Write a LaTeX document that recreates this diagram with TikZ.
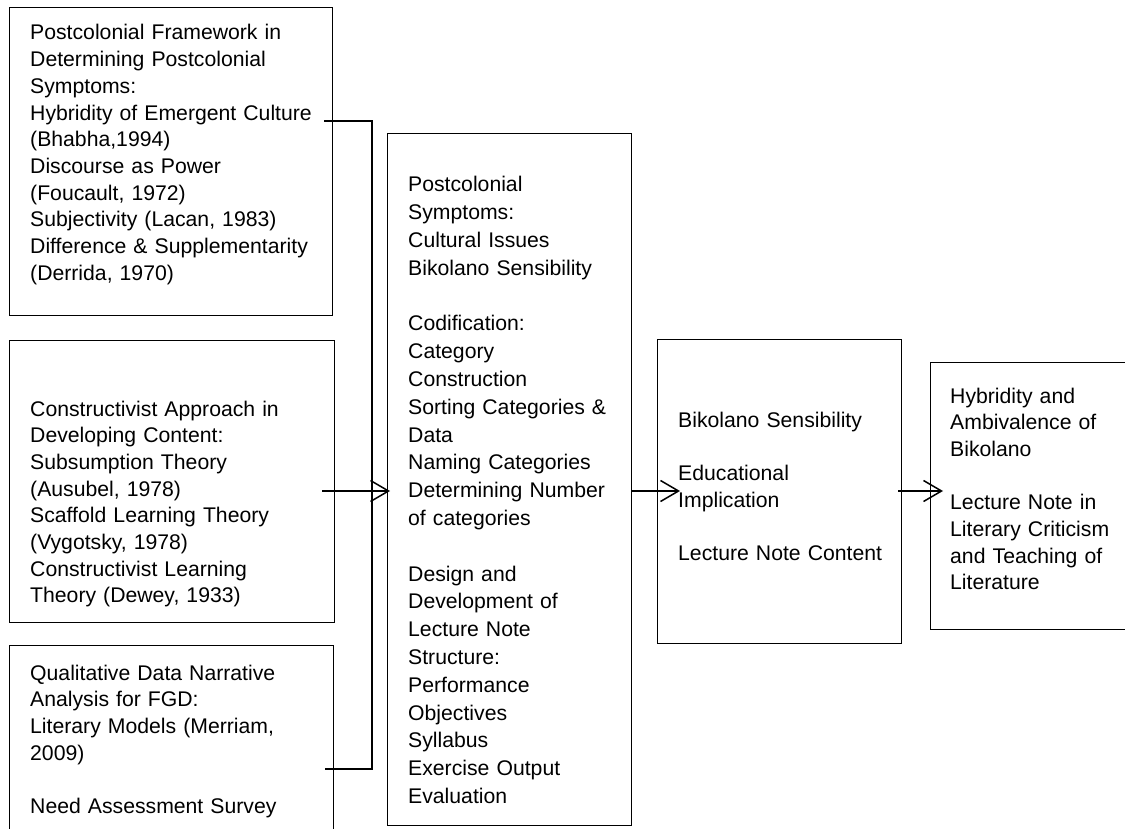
\documentclass[tikz,border=0pt]{standalone}
\usepackage{fontspec}
\setmainfont{Liberation Sans}
\usetikzlibrary{arrows.meta}

\begin{document}
\begin{tikzpicture}[x=1pt, y=-1pt,
  box/.style={draw, line width=1.3pt, rectangle, inner sep=0pt, anchor=north west},
  txt/.style={anchor=base west, inner sep=0pt, text width=300pt, align=left,
    font=\fontsize{21.2}{26.7}\selectfont},
  link/.style={line width=1.5pt},
  flow/.style={line width=1.5pt, -{Straight Barb[length=18pt, width=21pt]}}]

  \path[use as bounding box, clip] (0,0) rectangle (1125,829);

  \node[box, minimum width=323pt, minimum height=308pt] (frame)    at (9,7)     {};
  \node[box, minimum width=325pt, minimum height=282pt] (theory)   at (9,340)   {};
  \node[box, minimum width=324pt, minimum height=220pt] (analysis) at (9,645)   {};
  \node[box, minimum width=244pt, minimum height=692pt] (symptoms) at (387,133) {};
  \node[box, minimum width=244pt, minimum height=304pt] (sense)    at (657,339) {};
  \node[box, minimum width=220pt, minimum height=267pt] (outcome)  at (930,362) {};

  \node[txt] (frameT) at (30,40) {Postcolonial Framework in\\ Determining Postcolonial\\
    Symptoms:\\ Hybridity of Emergent Culture\\ (Bhabha,1994)\\ Discourse as Power\\
    (Foucault, 1972)\\ Subjectivity (Lacan, 1983)\\ Difference \& Supplementarity\\
    (Derrida, 1970)};
  \node[txt] (theoryT) at (30,416) {Constructivist Approach in\\ Developing Content:\\
    Subsumption Theory\\ (Ausubel, 1978)\\ Scaffold Learning Theory\\ (Vygotsky, 1978)\\
    Constructivist Learning\\ Theory (Dewey, 1933)};
  \node[txt] (analysisT) at (30,680) {Qualitative Data Narrative\\ Analysis for FGD:\\
    Literary Models (Merriam,\\ 2009)\\[\baselineskip] Need Assessment Survey};
  \node[txt, font=\fontsize{21.2}{27.8}\selectfont] (symptomsT) at (408,192)
    {Postcolonial\\ Symptoms:\\ Cultural Issues\\
    Bikolano Sensibility\\[\baselineskip] Codification:\\ Category\\ Construction\\
    Sorting Categories \&\\ Data\\ Naming Categories\\ Determining Number\\
    of categories\\[\baselineskip] Design and\\ Development of\\ Lecture Note\\ Structure:\\
    Performance\\ Objectives\\ Syllabus\\ Exercise Output\\ Evaluation};
  \node[txt] (senseT) at (678,427) {Bikolano Sensibility\\[\baselineskip] Educational\\
    Implication\\[\baselineskip] Lecture Note Content};
  \node[txt] (outcomeT) at (950,403) {Hybridity and\\ Ambivalence of\\
    Bikolano\\[\baselineskip] Lecture Note in\\ Literary Criticism\\ and Teaching of\\
    Literature};

  \coordinate (jtop) at (372,121);
  \coordinate (jbot) at (372,769);
  \coordinate (mid)  at (372,491);

  \draw[link] ([xshift=-9pt]frame.east |- jtop) -- (jtop) -- (jbot)
    -- ([xshift=-9pt]analysis.east |- jbot);
  \draw[flow] ([xshift=-13pt]theory.east |- mid) -- ([xshift=3pt]symptoms.west |- mid);
  \draw[flow] (symptoms.east |- mid) -- ([xshift=23pt]sense.west |- mid);
  \draw[flow] ([xshift=-4pt]sense.east |- mid) -- ([xshift=13pt]outcome.west |- mid);
\end{tikzpicture}
\end{document}
